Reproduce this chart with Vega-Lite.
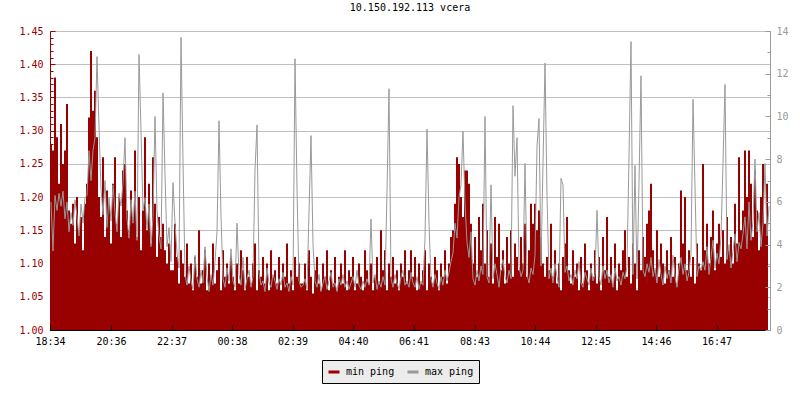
{
"$schema": "https://vega.github.io/schema/vega-lite/v6.json",
"width": 720, "height": 299,
"autosize": {"type": "none"},
"padding": {"left": 50, "top": 31, "right": 30, "bottom": 70},
"background": "white",
"config": {"view": {"stroke": null}, "font": "DejaVu Sans Mono"},
"title": {"text": "10.150.192.113 vcera", "font": "DejaVu Sans Mono", "fontSize": 10, "fontWeight": "normal", "color": "black", "anchor": "middle", "offset": 13},
"data": {"values": [
{"m":0,"lo":1.28,"hi":6.0},{"m":4,"lo":1.27,"hi":3.7},{"m":8,"lo":1.38,"hi":6.3},{"m":12,"lo":1.29,"hi":5.6},{"m":16,"lo":1.22,"hi":6.4},
{"m":20,"lo":1.31,"hi":5.8},{"m":24,"lo":1.25,"hi":6.5},{"m":28,"lo":1.27,"hi":5.2},{"m":32,"lo":1.34,"hi":6.0},{"m":36,"lo":1.18,"hi":4.6},
{"m":40,"lo":1.16,"hi":5.5},{"m":44,"lo":1.19,"hi":4.9},{"m":48,"lo":1.13,"hi":6.1},{"m":52,"lo":1.2,"hi":5.3},{"m":56,"lo":1.15,"hi":4.4},
{"m":60,"lo":1.17,"hi":5.9},{"m":64,"lo":1.12,"hi":5.0},{"m":68,"lo":1.19,"hi":6.2},{"m":72,"lo":1.22,"hi":6.3},{"m":76,"lo":1.32,"hi":8.4},
{"m":80,"lo":1.42,"hi":7.0},{"m":84,"lo":1.33,"hi":8.4},{"m":88,"lo":1.36,"hi":9.0},{"m":92,"lo":1.29,"hi":12.8},{"m":96,"lo":1.2,"hi":9.5},
{"m":100,"lo":1.17,"hi":6.6},{"m":104,"lo":1.26,"hi":5.4},{"m":108,"lo":1.14,"hi":7.0},{"m":112,"lo":1.21,"hi":4.8},{"m":116,"lo":1.19,"hi":6.2},
{"m":120,"lo":1.13,"hi":5.1},{"m":124,"lo":1.22,"hi":6.8},{"m":128,"lo":1.26,"hi":5.5},{"m":132,"lo":1.16,"hi":4.6},{"m":136,"lo":1.2,"hi":6.4},
{"m":140,"lo":1.14,"hi":5.8},{"m":144,"lo":1.24,"hi":6.9},{"m":148,"lo":1.25,"hi":9.0},{"m":152,"lo":1.18,"hi":5.2},{"m":156,"lo":1.15,"hi":4.3},
{"m":160,"lo":1.21,"hi":6.1},{"m":164,"lo":1.17,"hi":5.0},{"m":168,"lo":1.27,"hi":6.5},{"m":172,"lo":1.14,"hi":4.2},{"m":176,"lo":1.2,"hi":12.9},
{"m":180,"lo":1.12,"hi":9.3},{"m":184,"lo":1.18,"hi":5.6},{"m":188,"lo":1.29,"hi":6.2},{"m":192,"lo":1.15,"hi":4.7},{"m":196,"lo":1.22,"hi":5.9},
{"m":200,"lo":1.13,"hi":3.9},{"m":204,"lo":1.26,"hi":5.3},{"m":208,"lo":1.19,"hi":10.0},{"m":212,"lo":1.11,"hi":5.6},{"m":216,"lo":1.17,"hi":4.4},
{"m":220,"lo":1.14,"hi":3.8},{"m":224,"lo":1.16,"hi":11.1},{"m":228,"lo":1.12,"hi":7.3},{"m":232,"lo":1.1,"hi":3.9},{"m":236,"lo":1.13,"hi":4.8},
{"m":240,"lo":1.09,"hi":3.2},{"m":244,"lo":1.09,"hi":6.9},{"m":248,"lo":1.16,"hi":5.0},{"m":252,"lo":1.11,"hi":3.6},{"m":256,"lo":1.07,"hi":2.9},
{"m":260,"lo":1.12,"hi":13.7},{"m":264,"lo":1.1,"hi":7.9},{"m":268,"lo":1.08,"hi":2.6},{"m":272,"lo":1.13,"hi":2.1},{"m":276,"lo":1.07,"hi":3.0},
{"m":280,"lo":1.1,"hi":2.3},{"m":284,"lo":1.06,"hi":1.9},{"m":288,"lo":1.11,"hi":3.5},{"m":292,"lo":1.08,"hi":2.4},{"m":296,"lo":1.15,"hi":2.0},
{"m":300,"lo":1.07,"hi":2.8},{"m":304,"lo":1.09,"hi":2.2},{"m":308,"lo":1.12,"hi":3.9},{"m":312,"lo":1.06,"hi":2.5},{"m":316,"lo":1.1,"hi":1.8},
{"m":320,"lo":1.08,"hi":2.6},{"m":324,"lo":1.13,"hi":2.1},{"m":328,"lo":1.07,"hi":3.2},{"m":332,"lo":1.09,"hi":4.6},{"m":336,"lo":1.11,"hi":9.8},
{"m":340,"lo":1.06,"hi":5.3},{"m":344,"lo":1.12,"hi":2.4},{"m":348,"lo":1.08,"hi":2.0},{"m":352,"lo":1.1,"hi":2.9},{"m":356,"lo":1.07,"hi":2.3},
{"m":360,"lo":1.11,"hi":3.8},{"m":364,"lo":1.08,"hi":2.3},{"m":368,"lo":1.06,"hi":2.0},{"m":372,"lo":1.1,"hi":5.0},{"m":376,"lo":1.07,"hi":2.6},
{"m":380,"lo":1.12,"hi":2.1},{"m":384,"lo":1.09,"hi":3.4},{"m":388,"lo":1.06,"hi":1.9},{"m":392,"lo":1.11,"hi":2.4},{"m":396,"lo":1.08,"hi":2.8},
{"m":400,"lo":1.07,"hi":2.0},{"m":404,"lo":1.1,"hi":2.5},{"m":408,"lo":1.13,"hi":7.5},{"m":412,"lo":1.06,"hi":9.6},{"m":416,"lo":1.09,"hi":2.7},
{"m":420,"lo":1.08,"hi":2.1},{"m":424,"lo":1.11,"hi":2.3},{"m":428,"lo":1.07,"hi":1.8},{"m":432,"lo":1.1,"hi":2.9},{"m":436,"lo":1.06,"hi":2.2},
{"m":440,"lo":1.12,"hi":2.0},{"m":444,"lo":1.08,"hi":2.6},{"m":448,"lo":1.09,"hi":2.3},{"m":452,"lo":1.07,"hi":1.9},{"m":456,"lo":1.11,"hi":2.4},
{"m":460,"lo":1.06,"hi":2.1},{"m":464,"lo":1.1,"hi":2.7},{"m":468,"lo":1.08,"hi":2.0},{"m":472,"lo":1.13,"hi":2.2},{"m":476,"lo":1.07,"hi":1.8},
{"m":480,"lo":1.09,"hi":2.5},{"m":484,"lo":1.06,"hi":2.1},{"m":488,"lo":1.11,"hi":12.7},{"m":492,"lo":1.08,"hi":6.6},{"m":496,"lo":1.1,"hi":2.3},
{"m":500,"lo":1.07,"hi":2.0},{"m":504,"lo":1.07,"hi":2.1},{"m":508,"lo":1.1,"hi":2.4},{"m":512,"lo":1.06,"hi":1.9},{"m":516,"lo":1.12,"hi":5.5},
{"m":520,"lo":1.08,"hi":9.1},{"m":524,"lo":1.055,"hi":4.0},{"m":528,"lo":1.09,"hi":2.3},{"m":532,"lo":1.11,"hi":2.0},{"m":536,"lo":1.07,"hi":2.6},
{"m":540,"lo":1.06,"hi":1.8},{"m":544,"lo":1.1,"hi":2.2},{"m":548,"lo":1.08,"hi":2.5},{"m":552,"lo":1.12,"hi":1.9},{"m":556,"lo":1.06,"hi":2.3},
{"m":560,"lo":1.09,"hi":2.7},{"m":564,"lo":1.07,"hi":2.0},{"m":568,"lo":1.11,"hi":2.2},{"m":572,"lo":1.06,"hi":1.8},{"m":576,"lo":1.08,"hi":2.4},
{"m":580,"lo":1.1,"hi":2.1},{"m":584,"lo":1.07,"hi":2.6},{"m":588,"lo":1.12,"hi":2.0},{"m":592,"lo":1.06,"hi":2.3},{"m":596,"lo":1.09,"hi":1.9},
{"m":600,"lo":1.08,"hi":2.2},{"m":604,"lo":1.11,"hi":2.5},{"m":608,"lo":1.06,"hi":2.0},{"m":612,"lo":1.07,"hi":2.8},{"m":616,"lo":1.1,"hi":2.1},
{"m":620,"lo":1.08,"hi":1.9},{"m":624,"lo":1.06,"hi":2.3},{"m":628,"lo":1.12,"hi":2.0},{"m":632,"lo":1.09,"hi":2.4},{"m":636,"lo":1.07,"hi":2.1},
{"m":640,"lo":1.1,"hi":5.2},{"m":644,"lo":1.06,"hi":2.2},{"m":648,"lo":1.08,"hi":2.6},{"m":652,"lo":1.11,"hi":1.9},{"m":656,"lo":1.07,"hi":2.3},
{"m":660,"lo":1.15,"hi":2.0},{"m":664,"lo":1.09,"hi":2.5},{"m":668,"lo":1.12,"hi":2.1},{"m":672,"lo":1.06,"hi":6.5},{"m":676,"lo":1.1,"hi":11.3},
{"m":680,"lo":1.08,"hi":2.4},{"m":684,"lo":1.11,"hi":2.0},{"m":688,"lo":1.07,"hi":2.6},{"m":692,"lo":1.09,"hi":2.2},{"m":696,"lo":1.06,"hi":1.9},
{"m":700,"lo":1.1,"hi":2.5},{"m":704,"lo":1.08,"hi":2.8},{"m":708,"lo":1.12,"hi":2.1},{"m":712,"lo":1.07,"hi":2.3},{"m":716,"lo":1.09,"hi":2.0},
{"m":720,"lo":1.12,"hi":2.7},{"m":724,"lo":1.08,"hi":2.2},{"m":728,"lo":1.11,"hi":2.0},{"m":732,"lo":1.06,"hi":2.5},{"m":736,"lo":1.1,"hi":1.9},
{"m":740,"lo":1.07,"hi":2.3},{"m":744,"lo":1.09,"hi":2.1},{"m":748,"lo":1.12,"hi":4.3},{"m":752,"lo":1.06,"hi":9.4},{"m":756,"lo":1.1,"hi":5.0},
{"m":760,"lo":1.08,"hi":2.4},{"m":764,"lo":1.07,"hi":2.0},{"m":768,"lo":1.11,"hi":2.6},{"m":772,"lo":1.09,"hi":2.2},{"m":776,"lo":1.06,"hi":1.9},
{"m":780,"lo":1.1,"hi":2.5},{"m":784,"lo":1.08,"hi":2.1},{"m":788,"lo":1.12,"hi":2.8},{"m":792,"lo":1.07,"hi":2.3},{"m":796,"lo":1.1,"hi":2.7},
{"m":800,"lo":1.14,"hi":3.2},{"m":804,"lo":1.15,"hi":3.6},{"m":808,"lo":1.19,"hi":5.0},{"m":812,"lo":1.26,"hi":4.3},{"m":816,"lo":1.25,"hi":6.2},
{"m":820,"lo":1.2,"hi":6.8},{"m":824,"lo":1.17,"hi":9.3},{"m":828,"lo":1.24,"hi":5.9},{"m":832,"lo":1.24,"hi":4.1},{"m":836,"lo":1.22,"hi":3.4},
{"m":840,"lo":1.16,"hi":4.6},{"m":844,"lo":1.1,"hi":2.4},{"m":848,"lo":1.14,"hi":2.1},{"m":852,"lo":1.08,"hi":2.8},{"m":856,"lo":1.17,"hi":2.3},
{"m":860,"lo":1.12,"hi":3.0},{"m":864,"lo":1.19,"hi":2.6},{"m":868,"lo":1.1,"hi":10.0},{"m":872,"lo":1.15,"hi":2.5},{"m":876,"lo":1.08,"hi":2.2},
{"m":880,"lo":1.13,"hi":6.8},{"m":884,"lo":1.07,"hi":2.4},{"m":888,"lo":1.17,"hi":3.1},{"m":892,"lo":1.11,"hi":2.6},{"m":896,"lo":1.16,"hi":2.0},
{"m":900,"lo":1.09,"hi":2.9},{"m":904,"lo":1.12,"hi":3.3},{"m":908,"lo":1.07,"hi":2.5},{"m":912,"lo":1.14,"hi":2.2},{"m":916,"lo":1.1,"hi":2.8},
{"m":920,"lo":1.15,"hi":2.4},{"m":924,"lo":1.08,"hi":10.5},{"m":928,"lo":1.13,"hi":7.2},{"m":932,"lo":1.11,"hi":9.0},{"m":936,"lo":1.09,"hi":3.0},
{"m":940,"lo":1.14,"hi":2.5},{"m":944,"lo":1.1,"hi":2.8},{"m":948,"lo":1.16,"hi":7.8},{"m":952,"lo":1.08,"hi":2.6},{"m":956,"lo":1.12,"hi":2.2},
{"m":960,"lo":1.19,"hi":2.9},{"m":964,"lo":1.16,"hi":2.6},{"m":968,"lo":1.19,"hi":3.5},{"m":972,"lo":1.15,"hi":8.6},{"m":976,"lo":1.18,"hi":9.9},
{"m":980,"lo":1.14,"hi":3.0},{"m":984,"lo":1.1,"hi":7.8},{"m":988,"lo":1.08,"hi":12.5},{"m":992,"lo":1.11,"hi":6.3},{"m":996,"lo":1.09,"hi":2.4},
{"m":1000,"lo":1.16,"hi":2.9},{"m":1004,"lo":1.08,"hi":2.2},{"m":1008,"lo":1.12,"hi":3.1},{"m":1012,"lo":1.07,"hi":2.5},{"m":1016,"lo":1.1,"hi":2.0},
{"m":1020,"lo":1.06,"hi":7.1},{"m":1024,"lo":1.11,"hi":6.8},{"m":1028,"lo":1.13,"hi":2.7},{"m":1032,"lo":1.17,"hi":3.0},{"m":1036,"lo":1.09,"hi":2.3},
{"m":1040,"lo":1.07,"hi":2.6},{"m":1044,"lo":1.12,"hi":2.1},{"m":1048,"lo":1.08,"hi":2.8},{"m":1052,"lo":1.1,"hi":2.4},{"m":1056,"lo":1.06,"hi":3.2},
{"m":1060,"lo":1.11,"hi":2.2},{"m":1064,"lo":1.07,"hi":2.0},{"m":1068,"lo":1.13,"hi":2.7},{"m":1072,"lo":1.09,"hi":2.4},{"m":1076,"lo":1.06,"hi":2.1},
{"m":1080,"lo":1.1,"hi":2.9},{"m":1084,"lo":1.08,"hi":2.3},{"m":1088,"lo":1.12,"hi":2.6},{"m":1092,"lo":1.07,"hi":5.6},{"m":1096,"lo":1.11,"hi":2.5},
{"m":1100,"lo":1.06,"hi":2.1},{"m":1104,"lo":1.14,"hi":3.0},{"m":1108,"lo":1.09,"hi":2.4},{"m":1112,"lo":1.17,"hi":2.8},{"m":1116,"lo":1.08,"hi":2.2},
{"m":1120,"lo":1.11,"hi":2.6},{"m":1124,"lo":1.07,"hi":2.0},{"m":1128,"lo":1.13,"hi":2.9},{"m":1132,"lo":1.06,"hi":2.3},{"m":1136,"lo":1.1,"hi":2.5},
{"m":1140,"lo":1.09,"hi":2.1},{"m":1144,"lo":1.12,"hi":2.7},{"m":1148,"lo":1.15,"hi":2.4},{"m":1152,"lo":1.08,"hi":3.0},{"m":1156,"lo":1.11,"hi":8.1},
{"m":1160,"lo":1.07,"hi":13.5},{"m":1164,"lo":1.13,"hi":2.6},{"m":1168,"lo":1.1,"hi":7.7},{"m":1172,"lo":1.06,"hi":2.4},{"m":1176,"lo":1.12,"hi":6.9},
{"m":1180,"lo":1.09,"hi":11.9},{"m":1184,"lo":1.14,"hi":2.8},{"m":1188,"lo":1.11,"hi":2.5},{"m":1192,"lo":1.16,"hi":3.1},{"m":1196,"lo":1.18,"hi":2.7},
{"m":1200,"lo":1.22,"hi":3.4},{"m":1204,"lo":1.12,"hi":2.5},{"m":1208,"lo":1.09,"hi":2.9},{"m":1212,"lo":1.15,"hi":2.2},{"m":1216,"lo":1.08,"hi":3.3},
{"m":1220,"lo":1.13,"hi":2.6},{"m":1224,"lo":1.1,"hi":2.1},{"m":1228,"lo":1.07,"hi":3.0},{"m":1232,"lo":1.12,"hi":2.4},{"m":1236,"lo":1.09,"hi":2.8},
{"m":1240,"lo":1.14,"hi":2.2},{"m":1244,"lo":1.08,"hi":3.5},{"m":1248,"lo":1.11,"hi":2.5},{"m":1252,"lo":1.07,"hi":2.0},{"m":1256,"lo":1.1,"hi":2.9},
{"m":1260,"lo":1.21,"hi":3.4},{"m":1264,"lo":1.13,"hi":2.6},{"m":1268,"lo":1.2,"hi":3.1},{"m":1272,"lo":1.09,"hi":2.3},{"m":1276,"lo":1.12,"hi":2.7},
{"m":1280,"lo":1.08,"hi":3.6},{"m":1284,"lo":1.11,"hi":10.8},{"m":1288,"lo":1.07,"hi":6.7},{"m":1292,"lo":1.13,"hi":2.5},{"m":1296,"lo":1.1,"hi":3.0},
{"m":1300,"lo":1.09,"hi":2.8},{"m":1304,"lo":1.25,"hi":3.2},{"m":1308,"lo":1.12,"hi":2.8},{"m":1312,"lo":1.16,"hi":3.9},{"m":1316,"lo":1.1,"hi":2.6},
{"m":1320,"lo":1.14,"hi":3.4},{"m":1324,"lo":1.18,"hi":4.2},{"m":1328,"lo":1.09,"hi":2.9},{"m":1332,"lo":1.13,"hi":3.6},{"m":1336,"lo":1.16,"hi":3.1},
{"m":1340,"lo":1.11,"hi":4.4},{"m":1344,"lo":1.15,"hi":7.8},{"m":1348,"lo":1.1,"hi":11.5},{"m":1352,"lo":1.17,"hi":3.3},{"m":1356,"lo":1.12,"hi":4.0},
{"m":1360,"lo":1.14,"hi":2.9},{"m":1364,"lo":1.1,"hi":3.7},{"m":1368,"lo":1.19,"hi":4.5},{"m":1372,"lo":1.13,"hi":3.2},{"m":1376,"lo":1.26,"hi":4.1},
{"m":1380,"lo":1.15,"hi":3.8},{"m":1384,"lo":1.18,"hi":4.5},{"m":1388,"lo":1.27,"hi":5.3},{"m":1392,"lo":1.2,"hi":3.8},{"m":1396,"lo":1.27,"hi":6.0},
{"m":1400,"lo":1.22,"hi":4.2},{"m":1404,"lo":1.14,"hi":5.1},{"m":1408,"lo":1.24,"hi":8.0},{"m":1412,"lo":1.18,"hi":4.6},{"m":1416,"lo":1.12,"hi":5.5},
{"m":1420,"lo":1.2,"hi":3.9},{"m":1424,"lo":1.25,"hi":5.0},{"m":1428,"lo":1.16,"hi":7.8},{"m":1432,"lo":1.22,"hi":4.4},{"m":1436,"lo":1.13,"hi":5.8}
]},
"layer": [
{
"mark": {"type": "area", "interpolate": "step-after", "clip": true},
"encoding": {
"x": {"field": "m", "type": "quantitative", "scale": {"domain": [0, 1440], "nice": false, "zero": false},
"axis": {"title": null, "values": [0,122,243,364,485,606,727,849,970,1091,1212,1333],
"labelExpr": "timeFormat(datetime(2000,0,1,0,datum.value+1114),'%H:%M')",
"tickSize": -5, "labelPadding": 11, "labelFlush": false, "labelOverlap": false,
"domainColor": "black", "tickColor": "black", "labelColor": "black",
"labelFont": "DejaVu Sans Mono", "labelFontSize": 10, "grid": false, "zindex": 1}},
"y": {"field": "lo", "type": "quantitative", "scale": {"domain": [1.0, 1.45], "zero": false, "nice": false},
"axis": {"title": null, "orient": "left",
"values": [1.0,1.01,1.02,1.03,1.04,1.05,1.06,1.07,1.08,1.09,1.1,1.11,1.12,1.13,1.14,1.15,1.16,1.17,1.18,1.19,1.2,1.21,1.22,1.23,1.24,1.25,1.26,1.27,1.28,1.29,1.3,1.31,1.32,1.33,1.34,1.35,1.36,1.37,1.38,1.39,1.4,1.41,1.42,1.43,1.44,1.45],
"labelExpr": "abs(datum.value*20 - round(datum.value*20)) < 0.01 ? format(datum.value, '.2f') : ''",
"tickSize": {"condition": {"test": "abs(datum.value*20 - round(datum.value*20)) < 0.01", "value": -5}, "value": -3},
"labelPadding": 12, "labelOverlap": false,
"grid": true, "gridColor": "#c0c0c0",
"gridOpacity": {"condition": {"test": "abs(datum.value*20 - round(datum.value*20)) < 0.01", "value": 1}, "value": 0},
"domainColor": "#990000", "tickColor": "#990000", "labelColor": "#990000",
"labelFont": "DejaVu Sans Mono", "labelFontSize": 10, "zindex": 0}},
"color": {"datum": "min ping", "type": "nominal",
"scale": {"domain": ["min ping", "max ping"], "range": ["#990000", "#999999"]},
"legend": {"orient": "none", "legendX": 272, "legendY": 329, "direction": "horizontal", "title": null,
"symbolType": "stroke", "symbolStrokeWidth": 3, "symbolSize": 121,
"labelFont": "DejaVu Sans Mono", "labelFontSize": 10, "labelColor": "black",
"fillColor": "#ececec", "strokeColor": "black", "padding": 5, "columnPadding": 6, "labelOffset": 5,
"encode": {"symbols": {"update": {"stroke": {"scale": "color", "field": "value"}, "strokeWidth": {"value": 3}}}}}}
}
},
{
"mark": {"type": "line", "interpolate": "linear", "strokeWidth": 1, "xOffset": 1, "clip": true},
"encoding": {
"x": {"field": "m", "type": "quantitative"},
"y": {"field": "hi", "type": "quantitative", "scale": {"domain": [0, 14], "nice": false, "zero": true},
"axis": {"title": null, "orient": "right",
"values": [0,1,2,3,4,5,6,7,8,9,10,11,12,13,14],
"labelExpr": "datum.value % 2 == 0 ? datum.label : ''",
"tickSize": {"condition": {"test": "datum.value % 2 == 0", "value": -5}, "value": -3},
"labelPadding": 11, "labelOverlap": false, "grid": false,
"domainColor": "#999999", "tickColor": "#999999", "labelColor": "#999999",
"labelFont": "DejaVu Sans Mono", "labelFontSize": 10, "zindex": 1}},
"color": {"datum": "max ping", "type": "nominal"}
}
}
],
"resolve": {"scale": {"y": "independent"}}
}
